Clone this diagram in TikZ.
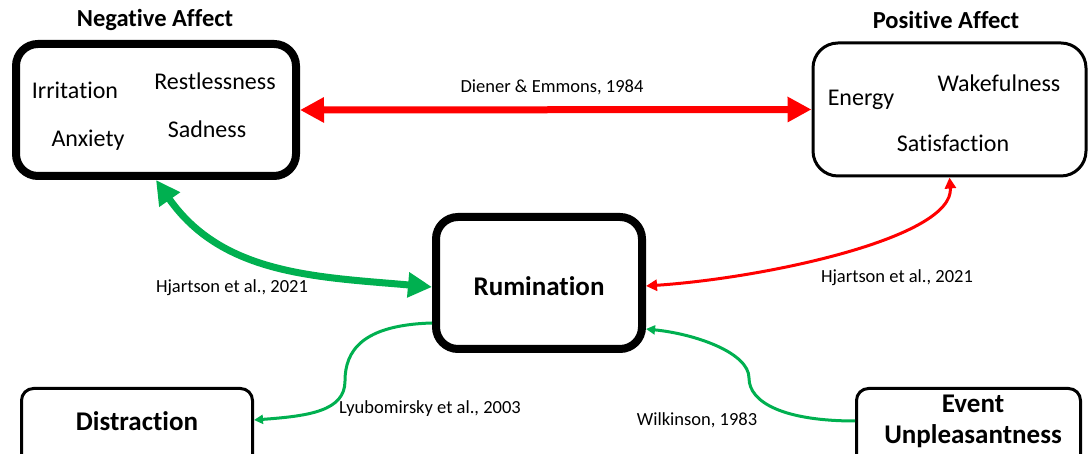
\documentclass[tikz,border=0pt]{standalone}
\usepackage{fontspec}
\setmainfont{Carlito}[Ligatures=NoCommon]
\usetikzlibrary{arrows.meta}
\definecolor{offgreen}{RGB}{0,176,80}
\definecolor{offred}{RGB}{255,0,0}
\begin{document}
\begin{tikzpicture}[x=1pt,y=1pt,
  thickbox/.style={draw=black, line width=8pt, rounded corners=22pt, inner sep=0pt},
  thinbox/.style={draw=black, line width=3pt, inner sep=0pt},
  item/.style={font=\fontsize{24}{28}\selectfont, inner sep=0pt},
  titletext/.style={font=\fontsize{24.5}{28}\selectfont\bfseries, inner sep=0pt},
  bigbold/.style={font=\fontsize{27}{31}\selectfont\bfseries, inner sep=0pt, align=center},
  cite/.style={font=\fontsize{18.5}{22}\selectfont, inner sep=0pt},
  bigarrow/.style={line width=7pt, {Triangle[length=24pt,width=24pt]}-{Triangle[length=24pt,width=24pt]}},
  thinarrow/.style={line width=3pt},
]
\useasboundingbox (0,0) rectangle (1089,454);
\clip (0,0) rectangle (1089,454);

% boxes
\node[thickbox, minimum width=280pt, minimum height=132pt] (na) at (156,344) {};
\node[thinbox, rounded corners=25pt, minimum width=273pt, minimum height=133pt] (pa) at (949.5,344.5) {};
\node[thickbox, minimum width=206pt, minimum height=132pt] (rum) at (539,171) {};
\node[thinbox, rounded corners=12pt, minimum width=231pt, minimum height=91pt] (dist) at (137,20) {};
\node[thinbox, rounded corners=12pt, minimum width=224pt, minimum height=91pt] (ev) at (968.5,20) {};

% titles and texts
\node[titletext] (natitle) at (155,434) {Negative Affect};
\node[titletext] (patitle) at (946,434) {Positive Affect};
\node[item] (irr) at (75,364) {Irritation};
\node[item] (rest) at (215,373) {Restlessness};
\node[item] (anx) at (88,314) {Anxiety};
\node[item] (sad) at (207,325) {Sadness};
\node[item] (ene) at (861,354) {Energy};
\node[item] (wake) at (999,371) {Wakefulness};
\node[item] (sat) at (953,311) {Satisfaction};
\node[bigbold] (rumtext) at (539,168) {Rumination};
\node[bigbold] (disttext) at (137,33) {Distraction};
\node[bigbold] (evtext) at (973,32.5) {Event\\Unpleasantness};

% connectors
\draw[offred, bigarrow] (na.east) -- (pa.west);
\draw[offgreen, bigarrow] (na.south) to[out=-55,in=175] ([yshift=-4pt]rum.west);
\draw[offred, thinarrow, {Triangle[length=11pt,width=11pt]}-{Triangle[length=11pt,width=11pt]}]
  ([yshift=-3pt]rum.east) .. controls +(120,8) and +(5,-60) .. (pa.south);
\draw[offgreen, thinarrow, -{Triangle[length=9pt,width=9pt]}]
  ([yshift=-40pt]rum.west) .. controls +(-70,-2) and +(0,30) .. (345,73)
  .. controls +(0,-30) and +(55,4) .. ([yshift=14pt]dist.east);
\draw[offgreen, thinarrow, -{Triangle[length=9pt,width=9pt]}]
  ([yshift=13pt]ev.west) .. controls +(-70,0) and +(0,-25) .. (749,76)
  .. controls +(0,25) and +(50,-5) .. ([yshift=-46pt]rum.east);

% citations
\node[cite] (c1) at (552,367) {Diener \& Emmons, 1984};
\node[cite] (c2) at (232,166) {Hjartson et al., 2021};
\node[cite] (c3) at (897,176) {Hjartson et al., 2021};
\node[cite] (c4) at (430,45) {Lyubomirsky et al., 2003};
\node[cite] (c5) at (697,34) {Wilkinson, 1983};
\end{tikzpicture}
\end{document}
